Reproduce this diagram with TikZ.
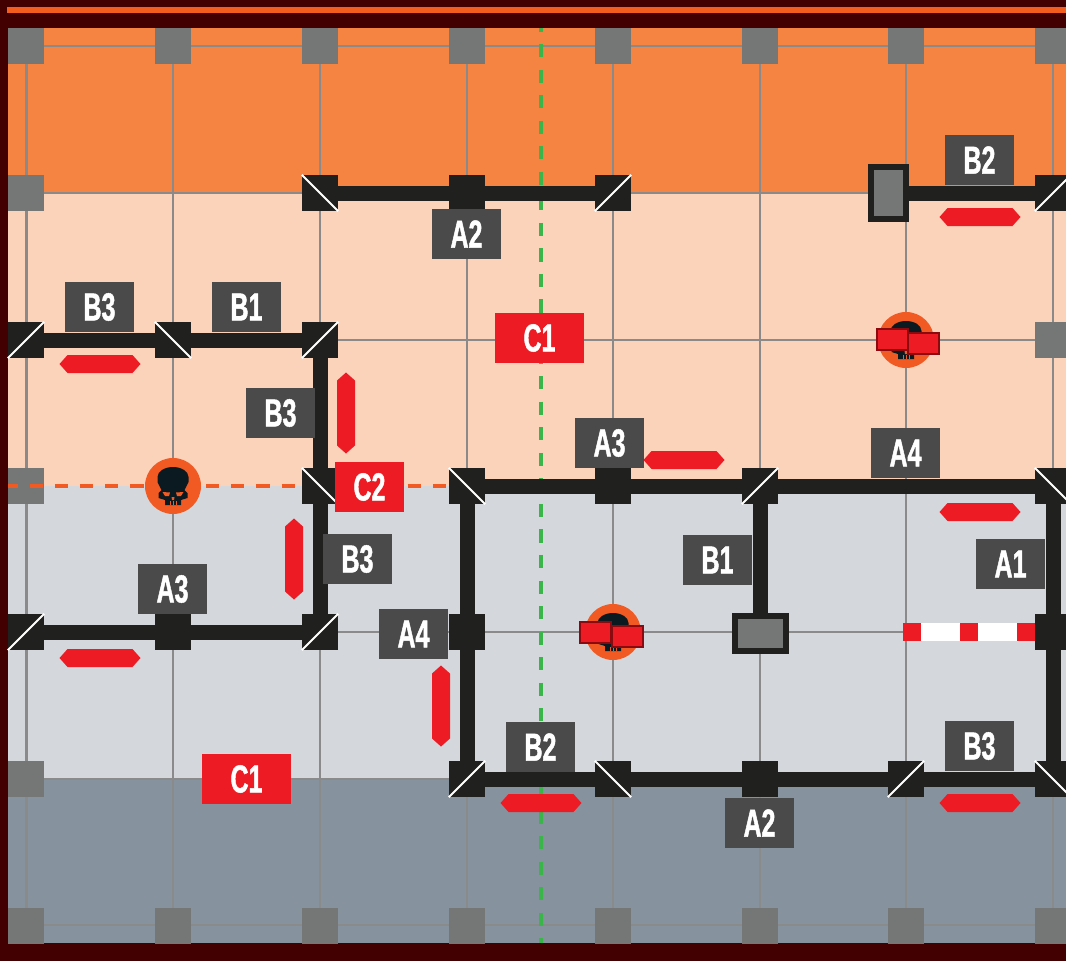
\documentclass[tikz,border=0pt]{standalone}
\usepackage{fontspec}
\newfontfamily\labfont[FakeStretch=0.64,FakeBold=1.2]{Liberation Sans Bold}
\definecolor{frame}{HTML}{430000}
\definecolor{bandA}{HTML}{F58443}
\definecolor{bandB}{HTML}{FBD3BB}
\definecolor{bandC}{HTML}{D4D8DC}
\definecolor{bandD}{HTML}{86939F}
\definecolor{gridc}{HTML}{8A8A8A}
\definecolor{sq}{HTML}{757777}
\definecolor{wallc}{HTML}{20201E}
\definecolor{labc}{HTML}{4A4A4A}
\definecolor{redc}{HTML}{ED1C24}
\definecolor{orangec}{HTML}{F15A22}
\definecolor{greenc}{HTML}{39B54A}
\definecolor{skullc}{HTML}{0A1A20}
\definecolor{flagb}{HTML}{8B0A10}
\tikzset{
  gridline/.style={draw=gridc,line width=2.1pt},
  anchorsq/.style={rectangle,fill=sq,minimum size=36pt,inner sep=0pt},
  junc/.style={rectangle,fill=wallc,minimum size=36pt,inner sep=0pt},
  diagline/.style={draw=white,line width=1.8pt},
  wall/.style={draw=wallc,line width=15pt},
  lab/.style={rectangle,fill=labc,text=white,minimum width=69pt,minimum height=50pt,inner sep=0pt,xshift=-0.5pt,font=\labfont\fontsize{39}{39}\selectfont},
  redlab/.style={lab,fill=redc},
  hexh/.style={fill=redc},
  doorbox/.style={rectangle,draw=wallc,line width=6pt,fill=sq,inner sep=0pt},
  flag/.style={rectangle,draw=flagb,line width=2pt,fill=redc,inner sep=0pt,minimum width=31pt,minimum height=21pt},
  token/.style={circle,fill=orangec,minimum size=56pt,inner sep=0pt},
}
\newcommand{\hexH}[3]{\node[minimum size=0pt,inner sep=0pt] (#1) at (#2,#3) {};
  \fill[hexh] (#2-40.5,#3) -- (#2-32.5,#3-9) -- (#2+32.5,#3-9) -- (#2+40.5,#3) -- (#2+32.5,#3+9) -- (#2-32.5,#3+9) -- cycle;}
\newcommand{\hexV}[3]{\node[minimum size=0pt,inner sep=0pt] (#1) at (#2,#3) {};
  \fill[hexh] (#2,#3-40.5) -- (#2+9,#3-32.5) -- (#2+9,#3+32.5) -- (#2,#3+40.5) -- (#2-9,#3+32.5) -- (#2-9,#3-32.5) -- cycle;}
\newcommand{\skull}[2]{%
  \begin{scope}[shift={(#1,#2)}]
    \fill[skullc] (-8,19) -- (-8,14) -- (-14.5,12) -- (-14.5,7) -- (-11.5,4) -- (-15.5,-4) -- (-15.5,-9) .. controls (-15.5,-15) and (-8,-19) .. (0,-19) .. controls (8,-19) and (15.5,-15) .. (15.5,-9) -- (15.5,-4) -- (11.5,4) -- (14.5,7) -- (14.5,12) -- (8,14) -- (8,19) -- cycle;
    \fill[orangec] (-10.5,6) -- (-3,6.5) -- (-4,10) -- (-8,10) -- cycle;
    \fill[orangec] (10.5,6) -- (3,6.5) -- (4,10) -- (8,10) -- cycle;
    \fill[orangec] (-1.5,11) -- (1.5,11) -- (1,14) -- (-1,14) -- cycle;
    \draw[orangec,line width=.8pt] (-3,15) -- (-3,19) (0,15) -- (0,19) (3,15) -- (3,19);
  \end{scope}}
\begin{document}
\begin{tikzpicture}[x=1pt,y=-1pt]
\useasboundingbox (0,0) rectangle (1066,961);
\fill[frame] (0,0) rectangle (1066,961);
\fill[orangec!90!orange] (7,7) rectangle (1066,13);
% bands
\fill[bandA] (8,28) rectangle (1066,193);
\fill[bandB] (8,193) rectangle (1066,486);
\fill[bandC] (8,486) rectangle (1066,779);
\fill[bandD] (8,779) rectangle (1066,943);
% grid
\foreach \x in {26.5,173,320,467,613,760,906,1053} \draw[gridline] (\x,46) -- (\x,925);
\foreach \y in {46,193,340,632,779,925} \draw[gridline] (26.5,\y) -- (1066,\y);
\draw[gridline] (450,486) -- (1066,486);
% green dashed line
\draw[greenc,line width=4.3pt,dash pattern=on 13.2pt off 12.35pt,dash phase=9.6pt] (541,28) -- (541,943);
% plain anchor squares
\foreach \x/\n in {26/a,173/b,320/c,467/d,613/e,760/f,906/g,1053/h} {
  \node[anchorsq] (top\n) at (\x,46) {};
  \node[anchorsq] (bot\n) at (\x,925.5) {};
}
\node[anchorsq] (s1) at (26,193) {};
\node[anchorsq] (s2) at (26,486) {};
\node[anchorsq] (s3) at (26,779) {};
\node[anchorsq] (s4) at (1053,340) {};
% orange dashed line
\draw[orangec,line width=3.5pt,dash pattern=on 13.2pt off 12pt,dash phase=3.6pt] (8,486) -- (450,486);
% junctions
\foreach \n/\x/\y in {j1/320/193,j2/467/193,j3/613/193,j4/1053/193,
  k1/26/340,k2/173/340,k3/320/340,
  m1/320/486,m2/467/486,m3/613/486,m4/760/486,m5/1053/486,
  p1/26/632,p2/173/632,p3/320/632,p4/467/632,p5/1053/632,
  q1/467/779,q2/613/779,q3/760/779,q4/906/779,q5/1053/779}
  \node[junc] (\n) at (\x,\y) {};
% doors
\node[doorbox,minimum width=35pt,minimum height=52pt] (d1) at (888.5,193) {};
\node[doorbox,minimum width=51pt,minimum height=35pt] (d2) at (760,633.5) {};
% walls
\draw[wall] (j1) -- (j2) -- (j3);
\draw[wall] (d1) -- (j4);
\draw[wall] (k1) -- (k2) -- (k3) -- (m1) -- (p3) -- (p2) -- (p1);
\draw[wall] (m2) -- (m3) -- (m4) -- (m5) -- (p5) -- (q5) -- (q4) -- (q3) -- (q2) -- (q1) -- (p4) -- (m2);
\draw[wall] (m4) -- (d2);
\node[doorbox,minimum width=35pt,minimum height=52pt] at (d1) {};
\node[doorbox,minimum width=51pt,minimum height=35pt] at (d2) {};
% diagonals
\foreach \n in {j1,k2,m1,m2,m5,q2,q5}
  \draw[diagline] (\n.north west) -- (\n.south east);
\foreach \n in {j3,j4,k1,k3,m4,p1,p3,q1,q4}
  \draw[diagline] (\n.south west) -- (\n.north east);
% red and white barrier
\fill[white] (903,623) rectangle (1035,641);
\foreach \x in {903,960,1017} \fill[redc] (\x,623) rectangle (\x+18,641);
% red hexagons
\hexH{h1}{100}{364}
\hexH{h2}{980}{217}
\hexH{h3}{684}{460}
\hexH{h4}{980}{512}
\hexH{h5}{100}{658}
\hexH{h6}{541}{803}
\hexH{h7}{980}{803}
\hexV{v1}{346}{413}
\hexV{v2}{294}{559}
\hexV{v3}{441}{706}
% tokens
\node[token] (t1) at (173,486) {};
\skull{173}{486}
\node[token] (t2) at (906,340) {};
\skull{906}{340}
\node[flag] (f1) at (892,339) {};
\node[flag] (f2) at (923,343) {};
\node[token] (t3) at (613,632) {};
\skull{613}{632}
\node[flag] (f3) at (595,632) {};
\node[flag] (f4) at (627,636) {};
% labels
\node[lab] (l1) at (100,307) {B3};
\node[lab] (l2) at (247,307) {B1};
\node[lab] (l3) at (467,234) {A2};
\node[lab] (l4) at (980,160) {B2};
\node[lab] (l5) at (281,413) {B3};
\node[lab] (l6) at (610,443) {A3};
\node[lab] (l7) at (906,453) {A4};
\node[lab] (l8) at (358,559) {B3};
\node[lab] (l9) at (718,560) {B1};
\node[lab] (l10) at (1011,564) {A1};
\node[lab] (l11) at (173,589) {A3};
\node[lab] (l12) at (414,634) {A4};
\node[lab] (l13) at (541,747) {B2};
\node[lab] (l14) at (980,746) {B3};
\node[lab] (l15) at (760,823) {A2};
\node[redlab,minimum width=89pt] (r1) at (540,338) {C1};
\node[redlab] (r2) at (370,487) {C2};
\node[redlab,minimum width=89pt] (r3) at (247,779) {C1};
\end{tikzpicture}
\end{document}
